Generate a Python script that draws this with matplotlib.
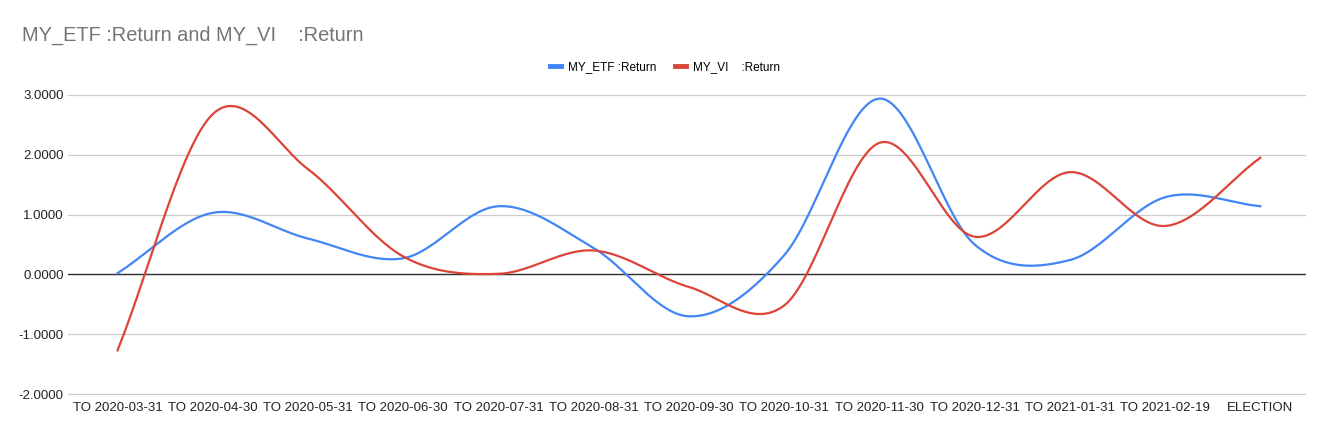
import numpy as np
import matplotlib
matplotlib.use("Agg")
import matplotlib.pyplot as plt

plt.rcParams['font.family'] = ['Liberation Sans', 'DejaVu Sans']

# ==== Data ====
periods = ["TO 2020-03-31", "TO 2020-04-30", "TO 2020-05-31", "TO 2020-06-30",
           "TO 2020-07-31", "TO 2020-08-31", "TO 2020-09-30", "TO 2020-10-31",
           "TO 2020-11-30", "TO 2020-12-31", "TO 2021-01-31", "TO 2021-02-19",
           "ELECTION"]
etf_return = [0.02, 1.03, 0.60, 0.27, 1.14, 0.44, -0.70, 0.32,
              2.94, 0.50, 0.24, 1.29, 1.14]
vi_return = [-1.27, 2.68, 1.76, 0.30, 0.01, 0.40, -0.21, -0.52,
             2.20, 0.63, 1.71, 0.81, 1.95]
etf_label = "MY_ETF :Return"
vi_label = "MY_VI    :Return"
# ==============


def smooth(y, n=30):
    # Catmull-Rom style cubic Hermite for a Sheets-like smooth line
    y = np.asarray(y, dtype=float)
    x = np.arange(len(y))
    m = np.zeros_like(y)
    m[1:-1] = (y[2:] - y[:-2]) / 2
    m[0] = y[1] - y[0]
    m[-1] = y[-1] - y[-2]
    xs, ys = [], []
    for i in range(len(y) - 1):
        t = np.linspace(0, 1, n, endpoint=False)
        h00 = 2 * t**3 - 3 * t**2 + 1
        h10 = t**3 - 2 * t**2 + t
        h01 = -2 * t**3 + 3 * t**2
        h11 = t**3 - t**2
        xs.append(x[i] + t)
        ys.append(h00 * y[i] + h10 * m[i] + h01 * y[i + 1] + h11 * m[i + 1])
    xs.append([x[-1]])
    ys.append([y[-1]])
    return np.concatenate(xs), np.concatenate(ys)


fig = plt.figure(figsize=(13.32, 4.36), dpi=100)
ax = fig.add_axes([68 / 1332, 1 - 396 / 436, 1238 / 1332, 301 / 436])

xe, ye = smooth(etf_return)
xv, yv = smooth(vi_return)
ax.plot(xe, ye, color='#4285F4', lw=1.6, label=etf_label, zorder=3)
ax.plot(xv, yv, color='#DB4437', lw=1.6, label=vi_label, zorder=3)

ax.set_xlim(-0.52, 12.48)
ax.set_ylim(-2.033, 3)
ax.set_yticks([-2, -1, 0, 1, 2, 3])
ax.set_yticklabels([f"{v:.4f}" for v in [-2, -1, 0, 1, 2, 3]])
ax.set_xticks(range(len(periods)))
ax.set_xticklabels(periods)
ax.tick_params(length=0, labelsize=9.5, colors='#222222')
ax.tick_params(axis='y', pad=3)
ax.tick_params(axis='x', pad=4)
ax.grid(axis='y', color='#cccccc', lw=0.9)
ax.axhline(0, color='#333333', lw=1.0, zorder=2)
for s in ax.spines.values():
    s.set_visible(False)

fig.text(22 / 1332, 1 - 35 / 436, "MY_ETF :Return and MY_VI    :Return",
         fontsize=14.4, color='#757575', va='center', ha='left')

leg = fig.legend(loc='center', bbox_to_anchor=(665 / 1332, 1 - 67 / 436),
                 ncol=2, frameon=False, fontsize=8.5, handlelength=1.0,
                 handletextpad=0.6, columnspacing=1.5)
for h in leg.get_lines():
    h.set_linewidth(3.5)

fig.savefig("out.png", dpi=100)
